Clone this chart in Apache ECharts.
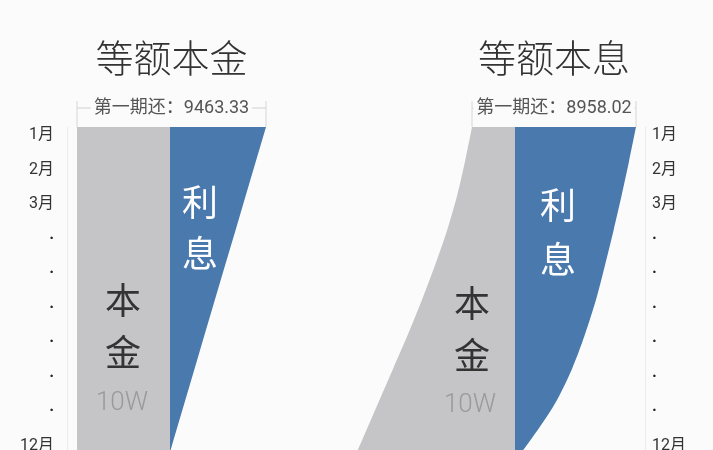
<!DOCTYPE html>
<html>
<head>
<meta charset="utf-8">
<script src="https://cdn.jsdelivr.net/npm/echarts@6/dist/echarts.min.js"></script>
<style>
  html, body { margin: 0; padding: 0; background: #fbfbfc; }
  #chart { width: 713px; height: 450px; }
</style>
</head>
<body>
<div id="chart"></div>
<script>
// rows of the month axis (the dots stand for the middle months)
const rowKeys = ['r1', 'r2', 'r3', 'r4', 'r5', 'r6', 'r7', 'r8', 'r9', 'r10', 'r11'];
const monthLabels = ['1月', '2月', '3月', '·', '·', '·', '·', '·', '·', '12月', ''];

// 等额本金: principal part constant, interest part shrinking (widths,
// last row sits below the crop and just continues the edge)
const principalA = [-93, -93, -93, -93, -93, -93, -93, -93, -93, -93, -93];
const interestA = [96, 85.8, 75.6, 65.4, 55.1, 44.9, 34.7, 24.5, 14.3, 4.1, -6];

// 等额本息: principal part growing, interest part shrinking
const principalB = [-43, -50, -58, -68, -80, -93, -107, -122, -137, -152, -167];
const interestB = [121, 114, 106.5, 98.5, 90, 81, 70, 57, 40, 17, -9];

const titles = ['等额本金', '等额本息'];
const firstPay = ['第一期还：9463.33', '第一期还：8958.02'];
const principalText = '10W';

const GRAY = '#c5c4c7';
const BLUE = '#4a79ae';
const BG = '#fbfbfc';
const FONT = 'Roboto, "Noto Sans CJK SC", sans-serif';

const chart = echarts.init(document.getElementById('chart'));

function monthAxis(gridIndex, position, margin) {
  return {
    gridIndex: gridIndex,
    type: 'category',
    data: rowKeys,
    inverse: true,
    boundaryGap: false,
    position: position,
    axisLine: { onZero: false, lineStyle: { color: '#ececec', width: 1 } },
    axisTick: { show: false },
    splitLine: { show: false },
    axisLabel: {
      interval: 0,
      margin: margin,
      color: '#333',
      fontSize: 16,
      fontFamily: FONT,
      verticalAlign: 'top',
      formatter: (v, i) => monthLabels[i] === '·' ? '{dot|·}' : monthLabels[i],
      rich: { dot: { fontSize: 16, fontWeight: 'bold', color: '#222' } }
    }
  };
}

function band(gridIndex, data, color, smooth) {
  return {
    type: 'line',
    xAxisIndex: gridIndex,
    yAxisIndex: gridIndex,
    data: data,
    smooth: smooth,
    symbol: 'none',
    silent: true,
    lineStyle: { width: 0 },
    areaStyle: { color: color, opacity: 1 }
  };
}

chart.setOption({
  backgroundColor: BG,
  animation: false,
  grid: [
    { left: 67, top: 127, width: 233, height: 345.6, outerBoundsMode: 'none' },
    { left: 335, top: 127, width: 310, height: 345.6, outerBoundsMode: 'none' }
  ],
  xAxis: [
    { gridIndex: 0, type: 'value', min: -103, max: 130, show: false },
    { gridIndex: 1, type: 'value', min: -180, max: 130, show: false }
  ],
  yAxis: [monthAxis(0, 'left', 13), monthAxis(1, 'right', 7)],
  series: [
    band(0, principalA, GRAY, false),
    band(0, interestA, BLUE, false),
    band(1, principalB, GRAY, 0.3),
    band(1, interestB, BLUE, 0.3)
  ]
});

// annotations placed through the axes
const px = (g, v) => chart.convertToPixel({ xAxisIndex: g }, v);
function py(g, r) {
  const y0 = chart.convertToPixel({ yAxisIndex: g }, 0);
  const y1 = chart.convertToPixel({ yAxisIndex: g }, 1);
  return y0 + r * (y1 - y0);
}

function text(x, y, str, size, color, weight) {
  return {
    type: 'text',
    x: x, y: y,
    z: 100,
    silent: true,
    style: {
      text: str,
      fill: color,
      font: (weight || 'normal') + ' ' + size + 'px ' + FONT,
      align: 'center',
      verticalAlign: 'middle'
    }
  };
}

function seg(x1, y1, x2, y2, color) {
  return { type: 'line', z: 100, silent: true, shape: { x1: x1, y1: y1, x2: x2, y2: y2 }, style: { stroke: color, lineWidth: 1 } };
}

const graphics = [];
const panels = [
  { p: principalA, i: interestA, lab: { li: [30, 2.31], xi: [30, 3.8], ben: [-47, 5.15], jin: [-47, 6.65], w: [-48, 8.0] } },
  { p: principalB, i: interestB, lab: { li: [43, 2.4], xi: [43, 3.95], ben: [-43, 5.24], jin: [-43, 6.75], w: [-45, 8.07] } }
];

panels.forEach((pn, g) => {
  const left = px(g, pn.p[0]);
  const right = px(g, pn.i[0]);
  const top = py(g, 0);
  const mid = (left + right) / 2;

  graphics.push(text(mid, 62, titles[g], 38, '#333', 300));

  // bracket over the first payment
  graphics.push(seg(left, 108, right, 108, '#cfcfcf'));
  graphics.push(seg(left, 101, left, top, '#d6d6d6'));
  graphics.push(seg(right, 101, right, top, '#d6d6d6'));
  const t = text(mid, 108, firstPay[g], 18, '#555');
  t.style.backgroundColor = BG;
  t.style.padding = [0, 3];
  graphics.push(t);

  const L = pn.lab;
  graphics.push(text(px(g, L.li[0]), py(g, L.li[1]), '利', 36, '#fff'));
  graphics.push(text(px(g, L.xi[0]), py(g, L.xi[1]), '息', 36, '#fff'));
  graphics.push(text(px(g, L.ben[0]), py(g, L.ben[1]), '本', 36, '#333'));
  graphics.push(text(px(g, L.jin[0]), py(g, L.jin[1]), '金', 36, '#333'));
  graphics.push(text(px(g, L.w[0]), py(g, L.w[1]), principalText, 26, '#9a9a9a', 300));
});

chart.setOption({ graphic: graphics });
</script>
</body>
</html>
